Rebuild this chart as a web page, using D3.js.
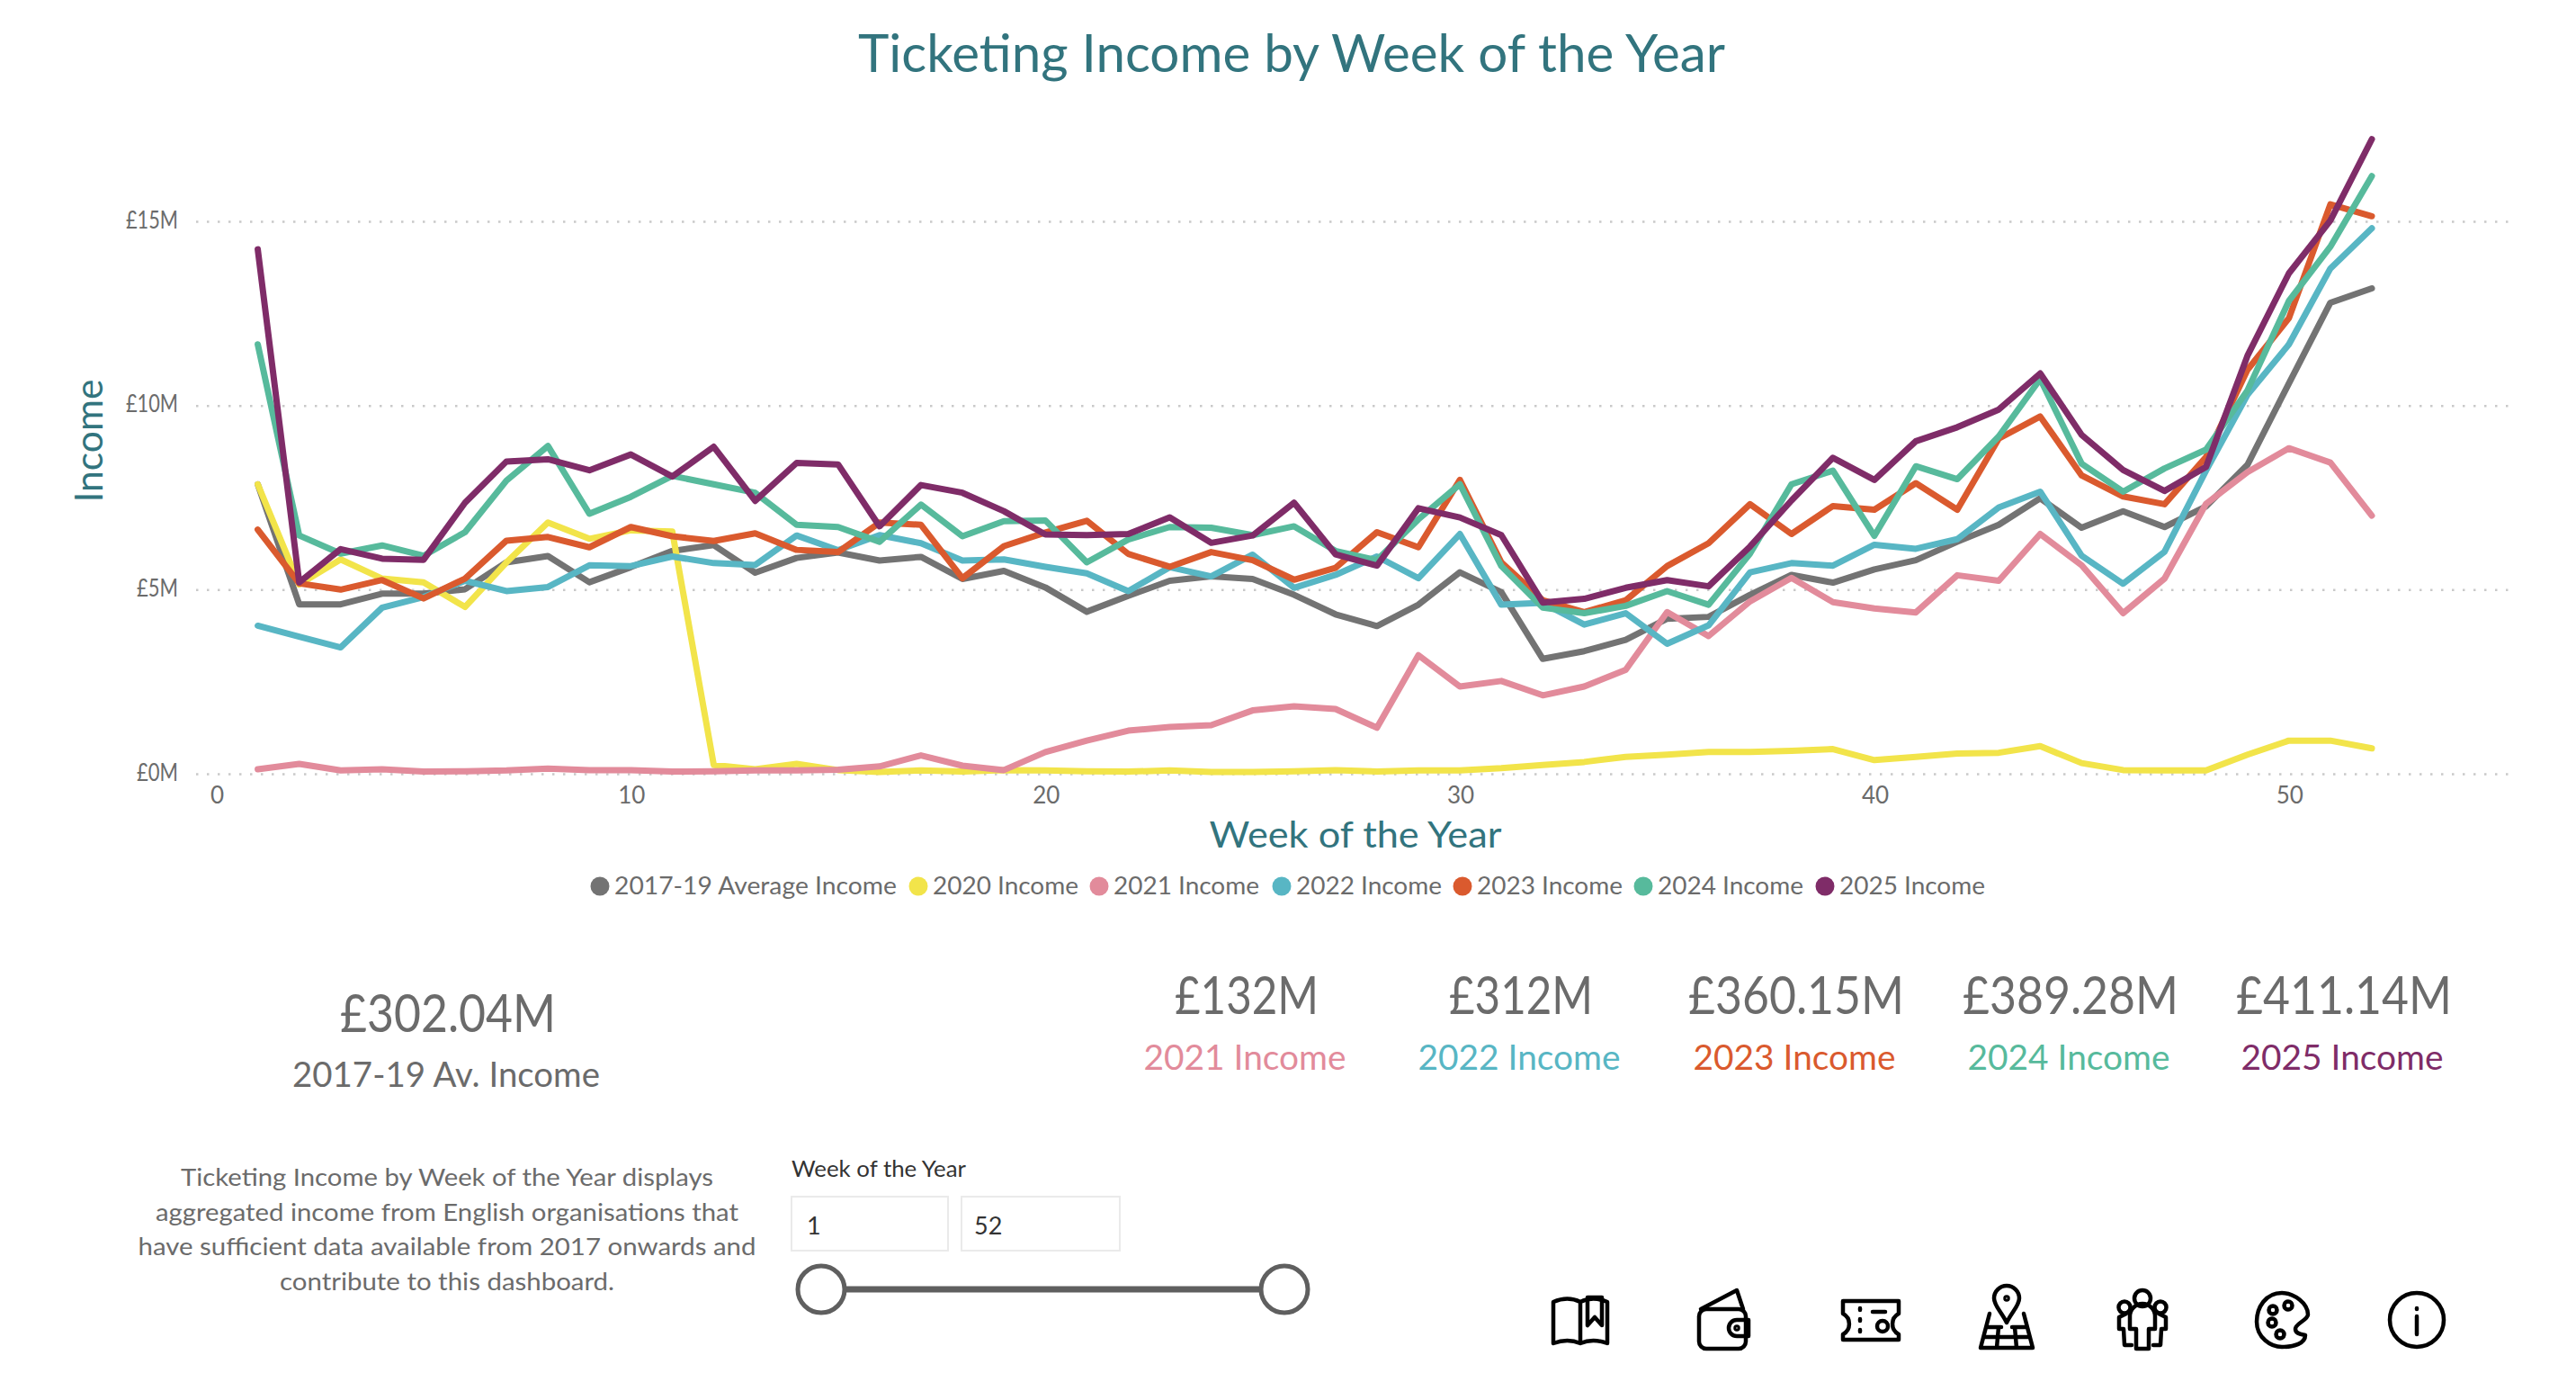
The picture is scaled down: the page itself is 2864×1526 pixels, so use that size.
<!DOCTYPE html>
<html><head><meta charset="utf-8">
<script src="https://cdn.jsdelivr.net/npm/d3@7/dist/d3.min.js"></script>
<style>html,body{margin:0;padding:0;background:#fff}svg{display:block}text{font-family:Lato,"Open Sans",sans-serif}</style>
</head><body><svg id="c" width="2864" height="1526"></svg>
<script>
const weeks = d3.range(1, 53);
const seriesNames = ["2017-19 Average Income","2020 Income","2021 Income","2022 Income","2023 Income","2024 Income","2025 Income"];
const seriesColors = ["#737373","#F2E44A","#E28B9B","#58B6C4","#DA5A2E","#57BA9C","#7F2C68"];
const avg1719 = [7.86,4.6,4.6,4.89,4.89,5.01,5.74,5.91,5.2,5.61,6.05,6.21,5.46,5.86,6.01,5.79,5.89,5.29,5.51,5.06,4.4,4.83,5.24,5.36,5.29,4.86,4.33,4.01,4.59,5.47,4.93,3.12,3.33,3.64,4.21,4.26,4.86,5.4,5.19,5.55,5.8,6.3,6.76,7.48,6.68,7.13,6.7,7.26,8.39,10.6,12.79,13.18];
const y2020 = [7.86,5.14,5.82,5.3,5.2,4.53,5.74,6.82,6.38,6.61,6.58,.24,.12,.27,.1,.05,.09,.06,.1,.09,.07,.06,.09,.05,.05,.07,.1,.06,.09,.09,.15,.24,.32,.46,.52,.59,.59,.62,.67,.37,.46,.55,.57,.75,.29,.1,.09,.09,.52,.9,.9,.69];
const y2021 = [.12,.27,.09,.12,.06,.07,.09,.14,.1,.1,.06,.07,.09,.09,.11,.2,.5,.22,.1,.59,.9,1.17,1.27,1.32,1.72,1.83,1.76,1.25,3.22,2.37,2.52,2.13,2.37,2.82,4.39,3.74,4.68,5.32,4.66,4.49,4.38,5.39,5.24,6.51,5.66,4.36,5.3,7.33,8.19,8.84,8.45,7.01];
const y2022 = [4.02,3.72,3.43,4.51,4.8,5.24,4.96,5.07,5.66,5.64,5.9,5.72,5.67,6.47,6.07,6.48,6.26,5.79,5.82,5.62,5.44,4.96,5.61,5.36,5.95,5.05,5.4,5.9,5.31,6.51,4.59,4.64,4.05,4.36,3.53,4.03,5.47,5.72,5.65,6.22,6.11,6.37,7.23,7.66,5.92,5.16,6.03,8.23,10.29,11.66,13.72,14.81];
const y2023 = [6.63,5.17,5,5.26,4.76,5.3,6.33,6.43,6.15,6.7,6.45,6.32,6.53,6.08,6.02,6.82,6.76,5.31,6.18,6.55,6.87,5.97,5.62,6.02,5.8,5.27,5.59,6.56,6.15,7.98,5.74,4.71,4.39,4.71,5.64,6.26,7.32,6.51,7.27,7.17,7.89,7.17,9.1,9.7,8.1,7.53,7.32,8.6,10.97,12.37,15.46,15.14];
const y2024 = [11.66,6.47,5.98,6.2,5.92,6.56,7.96,8.9,7.06,7.52,8.09,7.86,7.63,6.76,6.7,6.3,7.31,6.45,6.86,6.88,5.74,6.36,6.7,6.68,6.48,6.72,6.05,5.8,6.91,7.86,5.64,4.51,4.36,4.56,4.96,4.59,5.98,7.86,8.23,6.46,8.35,8,9.16,10.72,8.42,7.66,8.29,8.8,10.41,12.84,14.31,16.23];
const y2025 = [14.24,5.2,6.1,5.84,5.81,7.36,8.48,8.54,8.24,8.67,8.07,8.88,7.41,8.44,8.4,6.72,7.84,7.63,7.13,6.5,6.48,6.51,6.96,6.27,6.47,7.36,5.96,5.65,7.21,6.96,6.48,4.65,4.75,5.05,5.26,5.09,6.17,7.42,8.58,7.98,9.03,9.41,9.89,10.87,9.2,8.25,7.68,8.33,11.35,13.59,15.02,17.23];
const seriesValues = [avg1719,y2020,y2021,y2022,y2023,y2024,y2025];
const yTicks = [0,5,10,15];
const xTicks = [0,10,20,30,40,50];
const kpiValues = ["£132M","£312M","£360.15M","£389.28M","£411.14M"];
const kpiLabels = ["2021 Income","2022 Income","2023 Income","2024 Income","2025 Income"];
const kpiColors = ["#E28B9B","#58B6C4","#DA5A2E","#57BA9C","#7F2C68"];
const descLines = ["Ticketing Income by Week of the Year displays","aggregated income from English organisations that","have sufficient data available from 2017 onwards and","contribute to this dashboard."];

const svg = d3.select("#c");
svg.append("rect").attr("width",2864).attr("height",1526).attr("fill","#fff");
const TEAL="#32747E", GREY="#6b6b6b";
const x = d3.scaleLinear().domain([-0.488,55.32]).range([218,2790]);
const y = d3.scaleLinear().domain([0,15]).range([860,246]);

function txt(s,px,py,size,fill,anchor,len){
  const t=svg.append("text").attr("x",px).attr("y",py).attr("font-size",size).attr("fill",fill).attr("text-anchor",anchor||"middle").text(s);
  if(len) t.attr("textLength",len).attr("lengthAdjust","spacingAndGlyphs");
  return t;
}

// grid + axes
const yAxis = d3.axisLeft(y).tickValues(yTicks).tickFormat(d=>"£"+d+"M").tickSize(0).tickPadding(20);
const gy = svg.append("g").attr("transform","translate(218,-1)").call(yAxis);
gy.select(".domain").remove();
gy.selectAll("text").attr("font-size",26).attr("fill",GREY).style("font-family","Lato")
  .attr("textLength",d=>d>=10?58:46).attr("lengthAdjust","spacingAndGlyphs");
const grid = d3.axisLeft(y).tickValues(yTicks).tickFormat("").tickSize(-(2790-218));
const gg = svg.insert("g","g").attr("transform","translate(218,0)").call(grid);
gg.select(".domain").remove();
gg.selectAll("line").attr("stroke","#c9c9c9").attr("stroke-width",2.5).attr("stroke-dasharray","2.5 9.5");
const xAxis = d3.axisBottom(x).tickValues(xTicks).tickSize(0).tickPadding(0);
const gx = svg.append("g").attr("transform","translate(0.5,873)").call(xAxis);
gx.select(".domain").remove();
gx.selectAll("text").attr("font-size",26).attr("fill",GREY).attr("dy","0.75em").style("font-family","Lato");

// lines
const line = d3.line().x((d,i)=>x(weeks[i])).y(d=>y(d));
seriesValues.forEach((vals,i)=>{
  svg.append("path").datum(vals).attr("d",line).attr("fill","none")
    .attr("stroke",seriesColors[i]).attr("stroke-width",7)
    .attr("stroke-linejoin","round").attr("stroke-linecap","round");
});

// titles
txt("Ticketing Income by Week of the Year",1436,80,58,TEAL,"middle",964);
txt("Week of the Year",1507,942,41,TEAL,"middle",325);
txt("Income",0,0,42,TEAL).attr("transform","translate(114,490) rotate(-90)").attr("textLength",137).attr("lengthAdjust","spacingAndGlyphs");

// legend
const legendCx=[667,1021,1222,1425,1626,1827,2029];
const legendW=[314,162,162,162,162,162,162];
seriesNames.forEach((n,i)=>{
  svg.append("circle").attr("cx",legendCx[i]).attr("cy",985).attr("r",10.5).attr("fill",seriesColors[i]);
  txt(n,legendCx[i]+16,994,27,GREY,"start",legendW[i]);
});

// KPI cards
const kpiX=[1386,1691,1997,2302,2606];
kpiValues.forEach((v,i)=>{
  txt(v,kpiX[i],1127,59,GREY,"middle",[160,160,240,240,240][i]);
  txt(kpiLabels[i],kpiX[i]-2,1189,38,kpiColors[i],"middle",225);
});
txt("£302.04M",498,1147,59,GREY,"middle",240);
txt("2017-19 Av. Income",496,1208,38,GREY,"middle",342);

// description
descLines.forEach((l,i)=>txt(l,497,1318+i*38.5,26.5,GREY,"middle",[592,648,687,372][i]));

// slicer
txt("Week of the Year",880,1308,25,"#333","start",194);
[[880,174],[1069,176]].forEach(([bx,bw])=>svg.append("rect").attr("x",bx).attr("y",1330).attr("width",bw).attr("height",60).attr("fill","#fff").attr("stroke","#eaeaea").attr("stroke-width",2));
txt("1",897,1372,27,"#333","start");
txt("52",1083,1372,27,"#333","start");
svg.append("line").attr("x1",913).attr("x2",1428).attr("y1",1433).attr("y2",1433).attr("stroke","#5f5f5f").attr("stroke-width",7);
[913,1428].forEach(cx=>svg.append("circle").attr("cx",cx).attr("cy",1433).attr("r",26).attr("fill","#fff").attr("stroke","#5f5f5f").attr("stroke-width",5));

// icons
const iconG=(cx,cy)=>svg.append("g").attr("transform",`translate(${cx},${cy})`).attr("fill","none").attr("stroke","#000").attr("stroke-width",4.5).attr("stroke-linejoin","round").attr("stroke-linecap","round");
let g=iconG(1757,1467);
g.append("path").attr("d","M-30 -20Q-14 -27 0 -20Q14 -27 30 -20V26Q14 20 0 26Q-14 20 -30 26ZM0 -20V26");
g.append("path").attr("d","M8 -25H24V6L16 -3L8 6Z");
g=iconG(1917,1467);
g.append("rect").attr("x",-28).attr("y",-12).attr("width",52).attr("height",44).attr("rx",8);
g.append("path").attr("d","M-26 -12L14 -33L21 -12");
g.append("path").attr("d","M27 0H14A9 9 0 0 0 14 18H27Z");
g.append("circle").attr("cx",14).attr("cy",9).attr("r",1.5);
g=iconG(2080,1467);
g.append("path").attr("d","M-31 -21H31V-7A13 13 0 0 0 31 16V22H-31V16A13 13 0 0 0 -31 -7Z");
g.append("path").attr("d","M-12 -13V-11M-12 -1V1M-12 11V13M2 -9H16");
g.append("circle").attr("cx",13).attr("cy",7).attr("r",6);
g=iconG(2231,1467);
g.append("path").attr("d","M0 3C-6 -9 -14 -16 -14 -24A14 14 0 0 1 14 -24C14 -16 6 -9 0 3Z");
g.append("circle").attr("cx",0).attr("cy",-24).attr("r",1.5);
g.append("path").attr("d","M-19 -7L-29 31H29L19 -7M-25 19H25M-22 8H-6M6 8H22M-9 8L-11 31M9 8L11 31");
g=iconG(2382,1467);
g.append("circle").attr("cx",0).attr("cy",-24).attr("r",9);
g.append("circle").attr("cx",-20).attr("cy",-14).attr("r",6.5);
g.append("circle").attr("cx",20).attr("cy",-14).attr("r",6.5);
g.append("path").attr("d","M-7 32V10H-14V-4A14 14 0 0 1 14 -4V10H7V32Z");
g.append("path").attr("d","M-12 28H-20L-21 10H-26V-3L-18 -7M12 28H20L21 10H26V-3L18 -7");
g=iconG(2537,1467);
g.append("path").attr("d","M0 -30C-18 -30 -28 -14 -28 2C-28 20 -12 30 0 30C14 30 26 26 26 17C22 16 15 16 15 10C15 4 29 0 29 -6C29 -18 14 -30 0 -30Z");
[[-10,-11],[7,-16],[-11,3],[-2,16]].forEach(([a,b])=>g.append("circle").attr("cx",a).attr("cy",b).attr("r",4.5));
g=iconG(2687,1467);
g.append("circle").attr("r",30);
g.append("path").attr("d","M0 -4V16M0 -13V-12");
</script></body></html>
